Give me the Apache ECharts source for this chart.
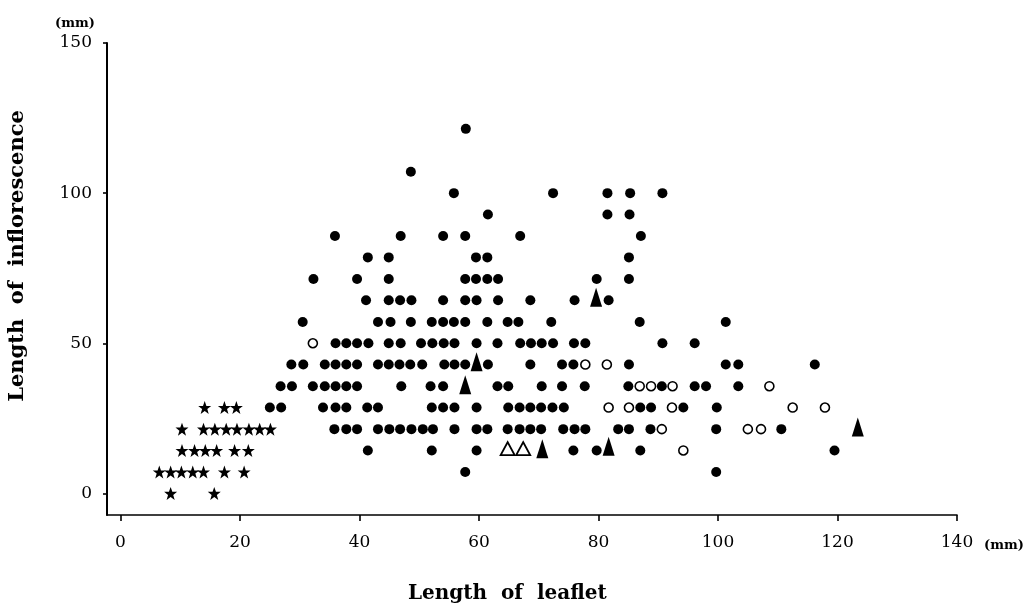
<!DOCTYPE html>
<html><head><meta charset="utf-8">
<script src="https://cdn.jsdelivr.net/npm/echarts@6/dist/echarts.min.js"></script>
<style>html,body{margin:0;padding:0;background:#fff}#c{width:1030px;height:605px}</style>
</head><body><div id="c"></div>
<script>
const xTicks = [0, 20, 40, 60, 80, 100, 120, 140];
const yTicks = [0, 50, 100, 150];
const xTitle = 'Length  of  leaflet';
const yTitle = 'Length  of  inflorescence';
const unitLabel = '(mm)';

const filledDots = [
  [57.8,121.4],
  [48.6,107.1],
  [55.8,100],[72.4,100],[81.5,100],[85.3,100],[90.7,100],
  [61.5,92.9],[81.5,92.9],[85.2,92.9],
  [35.9,85.7],[46.9,85.7],[54.0,85.7],[57.7,85.7],[66.9,85.7],[87.1,85.7],
  [41.4,78.6],[44.9,78.6],[59.5,78.6],[61.4,78.6],[85.1,78.6],
  [32.3,71.4],[39.6,71.4],[44.9,71.4],[57.7,71.4],[59.5,71.4],[61.4,71.4],[63.2,71.4],[79.7,71.4],[85.1,71.4],
  [41.1,64.3],[44.9,64.3],[46.8,64.3],[48.7,64.3],[54.0,64.3],[57.7,64.3],[59.6,64.3],[63.2,64.3],[68.6,64.3],[76.0,64.3],[81.7,64.3],
  [30.5,57.1],[43.1,57.1],[45.2,57.1],[48.6,57.1],[52.1,57.1],[54.0,57.1],[55.8,57.1],[57.7,57.1],[61.4,57.1],[64.8,57.1],[66.6,57.1],[72.1,57.1],[86.9,57.1],[101.3,57.1],
  [36.0,50],[37.8,50],[39.6,50],[41.5,50],[44.9,50],[46.9,50],[50.3,50],[52.2,50],[54.1,50],[55.9,50],[59.6,50],[63.1,50],[66.9,50],[68.7,50],[70.5,50],[72.4,50],[75.9,50],[77.8,50],[90.7,50],[96.1,50],
  [28.6,42.9],[30.6,42.9],[34.2,42.9],[36.0,42.9],[37.8,42.9],[39.6,42.9],[43.1,42.9],[44.9,42.9],[46.7,42.9],[48.5,42.9],[50.5,42.9],[54.2,42.9],[55.9,42.9],[57.7,42.9],[61.5,42.9],[68.6,42.9],[73.9,42.9],[75.8,42.9],[85.1,42.9],[101.3,42.9],[103.4,42.9],[116.2,42.9],
  [26.8,35.7],[28.7,35.7],[32.2,35.7],[34.2,35.7],[36.0,35.7],[37.8,35.7],[39.6,35.7],[47.0,35.7],[51.9,35.7],[54.0,35.7],[63.1,35.7],[64.9,35.7],[70.5,35.7],[73.9,35.7],[77.7,35.7],[85.0,35.7],[90.6,35.7],[96.1,35.7],[98.0,35.7],[103.4,35.7],
  [25.0,28.6],[26.9,28.6],[33.9,28.6],[36.0,28.6],[37.8,28.6],[41.3,28.6],[43.1,28.6],[52.1,28.6],[54.0,28.6],[55.9,28.6],[59.6,28.6],[64.9,28.6],[66.8,28.6],[68.6,28.6],[70.4,28.6],[72.3,28.6],[74.2,28.6],[87.0,28.6],[88.8,28.6],[94.2,28.6],[99.8,28.6],
  [35.8,21.4],[37.8,21.4],[39.6,21.4],[43.1,21.4],[45.0,21.4],[46.8,21.4],[48.7,21.4],[50.6,21.4],[52.3,21.4],[55.9,21.4],[59.6,21.4],[61.4,21.4],[64.8,21.4],[66.8,21.4],[68.6,21.4],[70.4,21.4],[74.1,21.4],[76.0,21.4],[77.8,21.4],[83.3,21.4],[85.1,21.4],[88.7,21.4],[99.7,21.4],[110.6,21.4],
  [41.4,14.3],[52.1,14.3],[59.6,14.3],[75.8,14.3],[79.7,14.3],[87.0,14.3],[119.5,14.3],
  [57.7,7.1],[99.7,7.1]
];

const openCircles = [
  [32.2,50],[77.8,42.9],[81.4,42.9],[86.9,35.7],[88.8,35.7],[92.4,35.7],[108.6,35.7],
  [81.7,28.6],[85.1,28.6],[92.3,28.6],[112.5,28.6],[117.9,28.6],
  [90.6,21.4],[105.0,21.4],[107.2,21.4],[94.2,14.3]
];

const stars = [
  [14.1,28.6],[17.4,28.6],[19.4,28.6],
  [10.3,21.4],[13.9,21.4],[15.8,21.4],[17.7,21.4],[19.5,21.4],[21.5,21.4],[23.3,21.4],[25.1,21.4],
  [10.3,14.3],[12.4,14.3],[14.2,14.3],[16.1,14.3],[19.1,14.3],[21.4,14.3],
  [6.5,7.1],[8.4,7.1],[10.2,7.1],[12.1,7.1],[13.9,7.1],[17.4,7.1],[20.7,7.1],
  [8.4,0],[15.7,0]
];

const filledTriangles = [
  [79.6,65.3],[59.6,43.8],[57.7,36.2],[70.6,14.9],[81.7,15.7],[123.4,22.1]
];

const openTriangles = [
  [64.8,14.9],[67.4,14.9]
];

const STAR = 'path://M50,0 L63,37 L100,37 L70,60 L81,97 L50,75 L19,97 L30,60 L0,37 L37,37 Z';
const FONT = 'DejaVu Serif';

const chart = echarts.init(document.getElementById('c'), null, {renderer: 'canvas'});
chart.setOption({
  backgroundColor: '#fff',
  animation: false,
  grid: {left: 107, top: 43, width: 850, height: 472, containLabel: false},
  xAxis: {
    type: 'value', min: -2.25, max: 140,
    axisLine: {show: true, onZero: false, lineStyle: {color: '#000', width: 1.6}},
    axisTick: {show: true, customValues: xTicks, length: 6, inside: false, lineStyle: {color: '#000', width: 1.6}},
    axisLabel: {customValues: xTicks, color: '#000', fontFamily: FONT, fontSize: 17, margin: 19},
    splitLine: {show: false}
  },
  yAxis: {
    type: 'value', min: -7.2, max: 150,
    axisLine: {show: true, onZero: false, lineStyle: {color: '#000', width: 2}},
    axisTick: {show: true, customValues: yTicks, length: 4, inside: false, lineStyle: {color: '#000', width: 1.6}},
    axisLabel: {customValues: yTicks, color: '#000', fontFamily: FONT, fontSize: 17, margin: 15},
    splitLine: {show: false}
  },
  graphic: [
    {type: 'text', left: 508 - 100, top: 584, style: {text: xTitle, font: 'bold 20px "DejaVu Serif"', fill: '#000', width: 200, align: 'center'}},
    {type: 'text', x: 18, y: 256, rotation: Math.PI / 2, style: {text: yTitle, font: 'bold 21px "DejaVu Serif"', fill: '#000', align: 'center', verticalAlign: 'middle'}},
    {type: 'text', x: 1004, y: 546, style: {text: unitLabel, font: 'bold 13px "DejaVu Serif"', fill: '#000', align: 'center', verticalAlign: 'middle'}},
    {type: 'text', x: 75, y: 24, style: {text: unitLabel, font: 'bold 13px "DejaVu Serif"', fill: '#000', align: 'center', verticalAlign: 'middle'}}
  ],
  series: [
    {type: 'scatter', data: filledDots, symbol: 'circle', symbolSize: 10, itemStyle: {color: '#000', opacity: 1}},
    {type: 'scatter', data: openCircles, symbol: 'circle', symbolSize: 9, itemStyle: {color: '#fff', borderColor: '#000', borderWidth: 1.6, opacity: 1}},
    {type: 'scatter', data: stars, symbol: STAR, symbolSize: 13, itemStyle: {color: '#000', opacity: 1}},
    {type: 'scatter', data: filledTriangles, symbol: 'triangle', symbolSize: [12, 19], itemStyle: {color: '#000', opacity: 1}},
    {type: 'scatter', data: openTriangles, symbol: 'triangle', symbolSize: [14, 13], itemStyle: {color: '#fff', borderColor: '#000', borderWidth: 1.8, opacity: 1}}
  ]
});
</script>
</body></html>
